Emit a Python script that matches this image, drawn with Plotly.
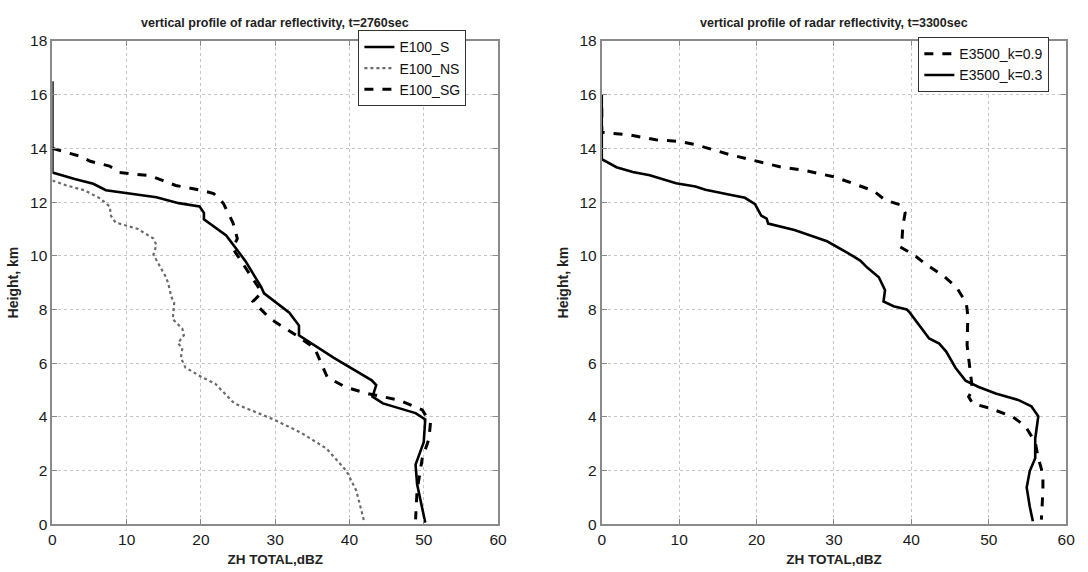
import plotly.graph_objects as go

# ---- Left panel: t=2760sec ----
e100_s_x = [0, 0, 3.0, 5.5, 7.2, 10.6, 14.0, 17.0, 19.8, 20.4, 20.4, 23.4, 24.7, 26.0, 28.1, 28.5,
            31.9, 33.2, 33.2, 37.9, 43.0, 43.6, 43.1, 44.5, 48.9, 50.2, 50.0, 48.9, 49.1, 49.8, 50.2]
e100_s_y = [16.5, 13.1, 12.86, 12.68, 12.44, 12.3, 12.18, 11.96, 11.84, 11.6, 11.36, 10.76, 10.28, 9.8, 8.84, 8.6,
            7.88, 7.4, 7.04, 6.2, 5.36, 5.18, 4.75, 4.5, 4.14, 3.9, 3.06, 2.22, 1.5, 0.66, 0.06]

e100_ns_x = [0, 1.9, 4.3, 6.4, 7.7, 7.9, 8.5, 11.5, 13.6, 14.0, 13.6, 14.5, 15.3, 15.6, 16.0, 16.4, 16.2,
             17.5, 17.7, 16.9, 17.5, 17.3, 17.9, 20.1, 21.9, 24.5, 29.8, 33.4, 36.9, 39.6, 40.9, 41.8, 42.0]
e100_ns_y = [12.8, 12.62, 12.44, 12.14, 11.84, 11.48, 11.24, 11.0, 10.64, 10.4, 10.04, 9.6, 9.2, 8.96, 8.48, 8.24, 7.64,
             7.28, 7.04, 6.74, 6.56, 6.2, 5.84, 5.48, 5.24, 4.5, 3.9, 3.42, 2.82, 1.98, 1.26, 0.3, 0.05]

e100_sg_x = [0, 3.8, 5.1, 7.7, 9.0, 13.2, 14.9, 16.6, 20.0, 21.7, 23.0, 24.3, 24.9, 24.3, 24.7, 26.0, 27.7, 28.1,
             27.0, 29.4, 32.8, 35.3, 36.2, 37.0, 39.5, 42.4, 46.7, 49.8, 50.9, 50.7, 49.8, 49.4, 49.1, 48.9]
e100_sg_y = [14.0, 13.7, 13.52, 13.34, 13.1, 12.98, 12.8, 12.62, 12.44, 12.32, 11.96, 11.24, 10.64, 10.28, 10.1, 9.56, 8.84, 8.6,
             8.3, 7.64, 7.04, 6.56, 5.96, 5.48, 5.1, 4.87, 4.62, 4.26, 3.78, 3.18, 2.46, 1.86, 1.26, 0.18]

# ---- Right panel: t=3300sec ----
k09_x = [0, 0, 3.6, 7.0, 10.0, 12.1, 16.4, 20.0, 23.2, 26.2, 30.0, 32.6, 35.1, 36.6, 38.5, 39.2, 38.9, 38.8, 38.5,
         40.3, 41.9, 44.1, 45.8, 47.1, 47.3, 47.2, 47.7, 47.9, 47.4, 47.9, 50.0, 53.0, 54.7, 56.0, 56.4, 57.0, 57.0, 56.8]
k09_y = [15.5, 14.6, 14.5, 14.32, 14.26, 14.14, 13.78, 13.54, 13.3, 13.18, 12.94, 12.68, 12.42, 12.08, 11.9, 11.6, 11.12, 10.64, 10.34,
         10.04, 9.68, 9.26, 8.84, 8.24, 7.76, 6.67, 5.47, 4.99, 4.75, 4.5, 4.33, 4.02, 3.66, 3.06, 2.46, 1.86, 1.25, 0.17]

k03_x = [0, 0, 1.9, 4.0, 6.2, 9.6, 12.1, 13.4, 16.4, 18.5, 19.8, 20.6, 21.3, 21.5, 24.9, 29.1, 31.7, 33.4, 34.3, 35.8,
         36.6, 36.4, 37.7, 39.4, 39.8, 41.1, 42.3, 43.6, 44.5, 45.7, 47.0, 48.7, 50.9, 53.8, 55.5, 56.4, 56.0, 56.0,
         55.3, 54.9, 55.3, 55.7]
k03_y = [16.0, 13.6, 13.3, 13.12, 13.0, 12.7, 12.58, 12.46, 12.28, 12.16, 11.92, 11.5, 11.38, 11.2, 10.96, 10.54, 10.12, 9.82, 9.56, 9.2,
         8.72, 8.3, 8.12, 8.0, 7.88, 7.4, 6.92, 6.73, 6.43, 5.83, 5.35, 5.11, 4.87, 4.63, 4.39, 4.02, 3.18, 2.46,
         1.98, 1.37, 0.65, 0.11]

x_ticks = [0, 10, 20, 30, 40, 50, 60]
y_ticks = [0, 2, 4, 6, 8, 10, 12, 14, 16, 18]
titles = ["vertical profile of radar reflectivity, t=2760sec",
          "vertical profile of radar reflectivity, t=3300sec"]

W, H = 1088, 572
FONT = "Liberation Sans, Arial, sans-serif"

fig = go.Figure()

fig.add_trace(go.Scatter(x=e100_s_x, y=e100_s_y, mode="lines", name="E100_S",
                         line=dict(color="black", width=2.6), xaxis="x", yaxis="y", legend="legend"))
fig.add_trace(go.Scatter(x=e100_ns_x, y=e100_ns_y, mode="lines", name="E100_NS",
                         line=dict(color="#6a6a6a", width=2.2, dash="dot"), xaxis="x", yaxis="y", legend="legend"))
fig.add_trace(go.Scatter(x=e100_sg_x, y=e100_sg_y, mode="lines", name="E100_SG",
                         line=dict(color="black", width=3, dash="dash"), xaxis="x", yaxis="y", legend="legend"))

fig.add_trace(go.Scatter(x=k09_x, y=k09_y, mode="lines", name="E3500_k=0.9",
                         line=dict(color="black", width=3, dash="dash"), xaxis="x2", yaxis="y2", legend="legend2"))
fig.add_trace(go.Scatter(x=k03_x, y=k03_y, mode="lines", name="E3500_k=0.3",
                         line=dict(color="black", width=2.6), xaxis="x2", yaxis="y2", legend="legend2"))

ydom = [41 / H, (H - 33) / H]
axis_common = dict(
    showline=True, linecolor="#8a8a8a", linewidth=2, mirror="ticks",
    ticks="inside", ticklen=5, tickcolor="#8a8a8a", tickwidth=1,
    showgrid=True, gridcolor="#c4c4c4", griddash="dot", gridwidth=1,
    zeroline=False, tickfont=dict(family=FONT, size=15.5, color="#1a1a1a"),
)
xtitle = dict(text="<b>ZH TOTAL,dBZ</b>", font=dict(family=FONT, size=13.5, color="#222"), standoff=8)
ytitle = dict(text="<b>Height, km</b>", font=dict(family=FONT, size=14, color="#222"), standoff=8)

leg_common = dict(xanchor="right", yanchor="top", bgcolor="white", bordercolor="#333333", borderwidth=1,
                  font=dict(family=FONT, size=14, color="#111"), tracegroupgap=0, itemwidth=30)

fig.update_layout(
    width=W, height=H, autosize=False,
    margin=dict(l=0, r=0, t=0, b=0),
    paper_bgcolor="white", plot_bgcolor="white",
    xaxis=dict(domain=[49 / W, 500 / W], range=[0, 60], tickvals=x_ticks, anchor="y", title=xtitle, **axis_common),
    yaxis=dict(domain=ydom, range=[0, 18], tickvals=y_ticks, anchor="x", title=ytitle, **axis_common),
    xaxis2=dict(domain=[605 / W, 1075 / W], range=[0, 60], tickvals=x_ticks, anchor="y2", title=xtitle, **axis_common),
    yaxis2=dict(domain=ydom, range=[0, 18], tickvals=y_ticks, anchor="x2", title=ytitle, **axis_common),
    legend=dict(x=468 / W, y=(H - 22) / H, **leg_common),
    legend2=dict(x=1058 / W, y=(H - 29) / H, **leg_common),
    showlegend=True,
)

centers = [(49 + 500) / 2 / W, (605 + 1075) / 2 / W]
for c, t in zip(centers, titles):
    fig.add_annotation(x=c, y=(H - 14) / H, xref="paper", yref="paper", text="<b>" + t + "</b>",
                       showarrow=False, xanchor="center", yanchor="middle",
                       font=dict(family=FONT, size=12.5, color="#222"))

fig.write_html("out.html")
